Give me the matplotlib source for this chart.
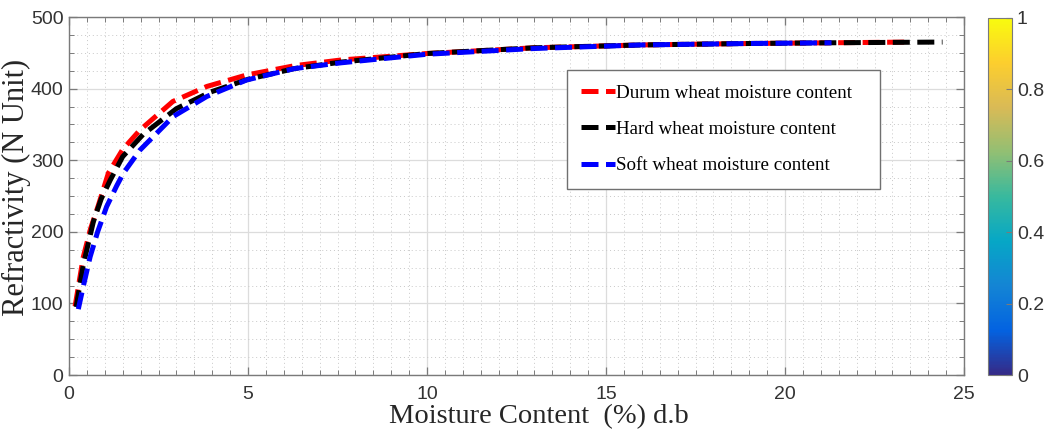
import numpy as np
import matplotlib
matplotlib.use("Agg")
import matplotlib.pyplot as plt
from matplotlib.colors import LinearSegmentedColormap
from matplotlib.ticker import MultipleLocator
import matplotlib as mpl

# ---- data ----
durum_x = [0.17, 0.4, 0.6, 0.82, 1.1, 1.5, 1.98, 2.9, 3.85, 4.96, 6.3, 7.6, 10, 13, 16, 19, 21.3, 23.5]
durum_y = [96, 165, 204, 237, 282, 315, 342, 382, 403, 419, 432, 440, 449, 457, 461, 463, 464, 465]

hard_x = [0.2, 0.4, 0.68, 0.9, 1.15, 1.5, 2.07, 3.0, 3.94, 5.0, 6.3, 7.6, 10, 13, 16, 19, 21.3, 24.4]
hard_y = [95, 154, 214, 246, 272, 305, 336, 372, 395, 413, 428, 437, 449, 457, 461, 463, 464, 465]

soft_x = [0.26, 0.4, 0.59, 0.8, 1.05, 1.33, 1.52, 1.98, 2.91, 3.85, 4.96, 6.3, 7.6, 10, 13, 16, 19, 21.3]
soft_y = [92, 124, 165, 200, 235, 264, 282, 314, 361, 389, 412, 428, 436, 448, 456, 461, 463, 464]

labels = ["Durum wheat moisture content", "Hard wheat moisture content", "Soft wheat moisture content"]
colors = ["#ff0000", "#000000", "#0000ff"]

xticks = [0, 5, 10, 15, 20, 25]
yticks = [0, 100, 200, 300, 400, 500]
cbar_ticks = [0, 0.2, 0.4, 0.6, 0.8, 1]

parula = LinearSegmentedColormap.from_list(
    "parula", ['#352a87', '#0363e1', '#1485d4', '#06a7c6', '#38b99e',
               '#92bf73', '#d9ba56', '#fcce2e', '#f9fb0e'])

plt.rcParams['font.family'] = ['Liberation Sans', 'DejaVu Sans']

fig = plt.figure(figsize=(10.44, 4.37), dpi=100)
ax = fig.add_axes([69/1044, 1-375/437, 895/1044, 358/437])

for xs, ys, c, lab in zip([durum_x, hard_x, soft_x], [durum_y, hard_y, soft_y], colors, labels):
    ax.plot(xs, ys, color=c, lw=3.6, ls='--', dashes=(3.4, 1.5), label=lab)

ax.set_xlim(0, 25)
ax.set_ylim(0, 500)
ax.set_xticks(xticks)
ax.set_yticks(yticks)
ax.xaxis.set_minor_locator(MultipleLocator(0.5))
ax.yaxis.set_minor_locator(MultipleLocator(25))
ax.grid(which='major', color='#dcdcdc', lw=0.9, ls='-')
ax.grid(which='minor', color='#c8c8c8', lw=0.7, ls=(0, (1, 3)))
ax.set_axisbelow(True)
ax.tick_params(which='both', direction='in', top=True, right=True, colors='#7a7a7a',
               labelcolor='#333333', labelsize=14)
ax.tick_params(which='major', length=6, width=0.9)
ax.tick_params(which='minor', length=3.5, width=0.7)
ax.tick_params(axis='x', which='major', pad=8)
ax.tick_params(axis='y', which='major', pad=4)
for s in ax.spines.values():
    s.set_color('#7a7a7a')
    s.set_linewidth(1.0)

serif = ['Liberation Serif', 'DejaVu Serif']
ax.set_xlabel("Moisture Content  (%) d.b", fontsize=20.5, family=serif, color='#262626',
              labelpad=1, x=0.525)
ax.set_ylabel("Refractivity (N Unit)", fontsize=22, family=serif, color='#262626',
              labelpad=0, y=0.525)

leg = ax.legend(loc='upper left', bbox_to_anchor=(0.5564, 0.525, 0.3497, 0.327), mode='expand',
                frameon=True, fancybox=False,
                prop={'family': serif, 'size': 13.7}, handlelength=1.75, handletextpad=0.1,
                labelspacing=1.0, borderpad=0.75, borderaxespad=0)
leg.get_frame().set_edgecolor('#707070')
leg.get_frame().set_linewidth(1.0)
leg.get_frame().set_alpha(1)

cax = fig.add_axes([988/1044, 1-375/437, 24/1044, 357/437])
cb = mpl.colorbar.ColorbarBase(cax, cmap=parula, norm=mpl.colors.Normalize(0, 1), ticks=cbar_ticks)
cb.ax.set_yticklabels(['0', '0.2', '0.4', '0.6', '0.8', '1'])
cb.outline.set_edgecolor('#7a7a7a')
cax.tick_params(direction='in', length=4, colors='#7a7a7a', labelcolor='#333333', labelsize=14)

fig.savefig("out.png", dpi=100)
